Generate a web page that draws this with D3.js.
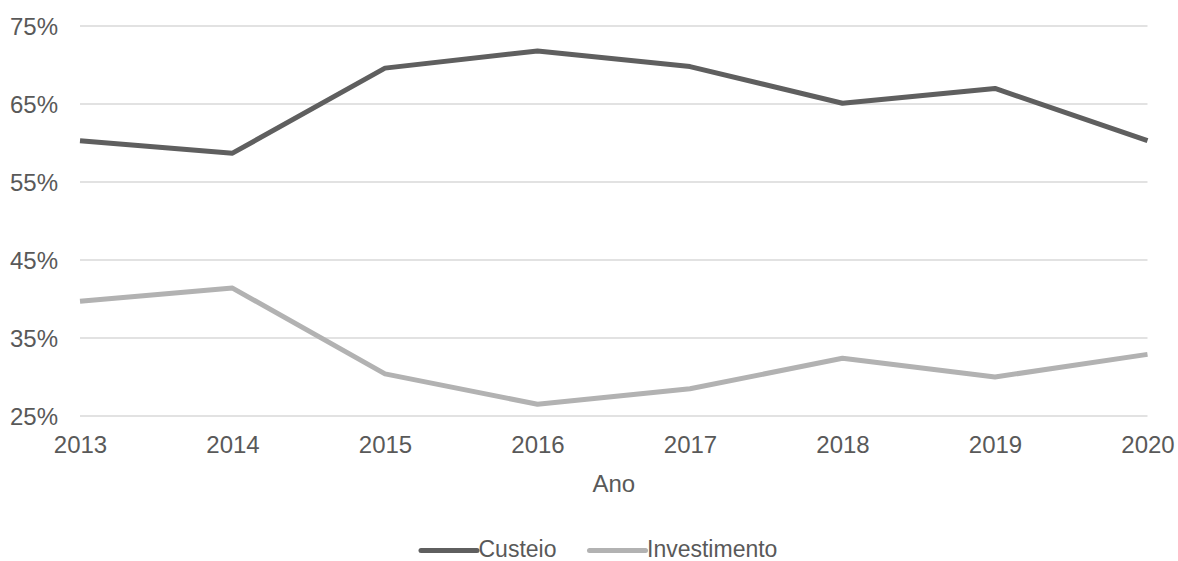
<!DOCTYPE html>
<html>
<head>
<meta charset="utf-8">
<script src="https://cdn.jsdelivr.net/npm/d3@7"></script>
<style>
  html, body { margin: 0; padding: 0; background: #fff; }
  svg { display: block; font-family: "Liberation Sans", Arial, sans-serif; }
</style>
</head>
<body>
<svg id="chart" width="1178" height="561"></svg>
<script>
// Shares of spending by year (percent)
const years = ["2013", "2014", "2015", "2016", "2017", "2018", "2019", "2020"];
const custeio = [60.3, 58.7, 69.6, 71.8, 69.8, 65.1, 67.0, 60.3];
const investimento = [39.7, 41.4, 30.4, 26.5, 28.5, 32.4, 30.0, 32.9];
const yTicks = [25, 35, 45, 55, 65, 75];
const seriesNames = ["Custeio", "Investimento"];
const seriesColors = ["#5f5f5f", "#b2b2b2"];

const svg = d3.select("#chart");
const textColor = "#595959";
const axisFont = 24;
const legendFont = 23;

const x = d3.scalePoint().domain(years).range([80, 1147.5]);
const y = d3.scaleLinear().domain([25, 75]).range([416, 26]);

// Horizontal gridlines
svg.append("g")
  .selectAll("line")
  .data(yTicks)
  .join("line")
  .attr("x1", 80).attr("x2", 1147.5)
  .attr("y1", d => y(d)).attr("y2", d => y(d))
  .attr("stroke", "#d9d9d9")
  .attr("stroke-width", 1.3);

// Y axis labels
const yAxis = d3.axisLeft(y).tickValues(yTicks).tickFormat(d => d + "%").tickSize(0).tickPadding(0);
const yg = svg.append("g").attr("transform", "translate(58,0)").call(yAxis);
yg.select(".domain").remove();
yg.selectAll("text")
  .attr("fill", textColor)
  .style("font-size", axisFont + "px")
  .style("font-family", "Liberation Sans, Arial, sans-serif")
  .attr("dy", "0.36em");

// X axis labels
const xAxis = d3.axisBottom(x).tickSize(0).tickPadding(0);
const xg = svg.append("g").attr("transform", "translate(0,436)").call(xAxis);
xg.select(".domain").remove();
xg.selectAll("text")
  .attr("fill", textColor)
  .style("font-size", axisFont + "px")
  .style("font-family", "Liberation Sans, Arial, sans-serif")
  .attr("dy", "0.71em")
  .attr("y", 0);

// X axis title
svg.append("text")
  .attr("x", (80 + 1147.5) / 2)
  .attr("y", 491.5)
  .attr("text-anchor", "middle")
  .attr("fill", textColor)
  .style("font-size", axisFont + "px")
  .text("Ano");

// Lines
const line = d3.line()
  .x((d, i) => x(years[i]))
  .y(d => y(d));

[custeio, investimento].forEach((vals, k) => {
  svg.append("path")
    .datum(vals)
    .attr("fill", "none")
    .attr("stroke", seriesColors[k])
    .attr("stroke-width", 5)
    .attr("stroke-linejoin", "round")
    .attr("d", line);
});

// Legend
const legendItems = [
  { name: seriesNames[0], color: seriesColors[0], x0: 421, x1: 477, tx: 478.5 },
  { name: seriesNames[1], color: seriesColors[1], x0: 589.5, x1: 645.5, tx: 647 }
];
const lg = svg.append("g");
legendItems.forEach(it => {
  lg.append("line")
    .attr("x1", it.x0).attr("x2", it.x1)
    .attr("y1", 550.5).attr("y2", 550.5)
    .attr("stroke", it.color)
    .attr("stroke-width", 5)
    .attr("stroke-linecap", "round");
  lg.append("text")
    .attr("x", it.tx)
    .attr("y", 557)
    .attr("fill", textColor)
    .style("font-size", legendFont + "px")
    .text(it.name);
});
</script>
</body>
</html>
